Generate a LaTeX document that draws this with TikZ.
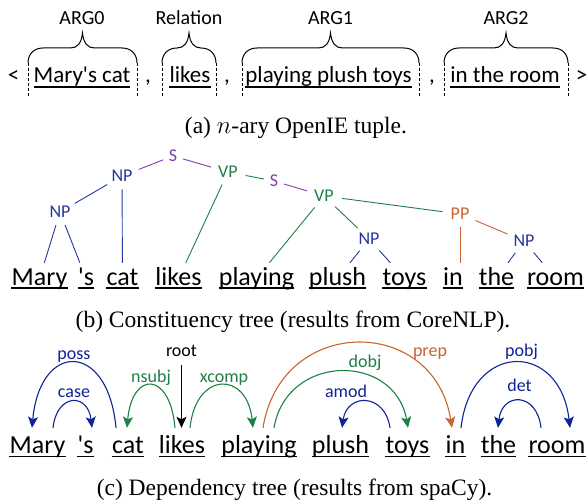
\documentclass[tikz,border=0pt]{standalone}
\usepackage{amsmath}
\usepackage{fontspec}
\setmainfont{Liberation Serif}
\newfontfamily\calibri{Carlito}
\usepackage{tikz}
\usetikzlibrary{arrows.meta,shapes.geometric,calc}

\definecolor{npblue}{RGB}{35,55,160}
\definecolor{depblue}{RGB}{15,35,150}
\definecolor{vpgreen}{RGB}{30,128,70}
\definecolor{spurple}{RGB}{125,60,175}
\definecolor{pporange}{RGB}{200,100,45}

\begin{document}
\begin{tikzpicture}[x=1pt,y=1pt,yscale=-1,xscale=1,
  word/.style={font=\calibri\fontsize{26}{26}\selectfont, anchor=base, inner xsep=0pt, inner ysep=3pt, text height=19pt, text depth=6pt},
  dword/.style={word, inner ysep=6pt},
  tuple/.style={font=\calibri\fontsize{23}{23}\selectfont, anchor=base, inner sep=0pt},
  arglab/.style={font=\calibri\fontsize{20}{20}\selectfont, anchor=base, inner sep=0pt},
  tlab/.style={font=\calibri\fontsize{18}{18}\selectfont, ellipse, inner xsep=3pt, inner ysep=3.5pt, text height=11.6pt, text depth=0pt},
  dlab/.style={font=\calibri\fontsize{18}{18}\selectfont, anchor=base, inner sep=0pt},
  capt/.style={font=\fontsize{23.5}{28}\selectfont, anchor=base, inner sep=0pt},
  uline/.style={line width=1.2pt},
  tedge/.style={line width=0.9pt},
  dashbar/.style={line width=0.8pt, dash pattern=on 3pt off 2pt},
  bracket/.style={line width=1pt},
  dep/.style={line width=1.1pt, -{Stealth[length=11pt,width=10pt,inset=2.5pt]}}]
\useasboundingbox (0,0) rectangle (587,503);

%%%%% (a) tuple
% Text Node
\node[tuple] (ltSign) at (13.5,83) {<};
\node[tuple] (tArg0) at (82,83) {Mary\textquotesingle s cat};
\node[tuple] (comma1) at (148,83) {,};
\node[tuple] (tRel) at (190,83) {likes};
\node[tuple] (comma2) at (227,83) {,};
\node[tuple] (tArg1) at (328.5,83) {playing plush toys};
\node[tuple] (comma3) at (432,83) {,};
\node[tuple] (tArg2) at (505,83) {in the room};
\node[tuple] (gtSign) at (581.5,83) {>};
% Text Node
\node[arglab] (lArg0) at (82,25) {ARG0};
\node[arglab] (lRel) at (189,25) {Relation};
\node[arglab] (lArg1) at (330.5,25) {ARG1};
\node[arglab] (lArg2) at (506,25) {ARG2};
%Straight Lines
\draw[uline] ($(tArg0.base west)+(0,4)$) -- ($(tArg0.base east)+(0,4)$);
\draw[uline] ($(tRel.base west)+(0,4)$) -- ($(tRel.base east)+(0,4)$);
\draw[uline] ($(tArg1.base west)+(0,4)$) -- ($(tArg1.base east)+(0,4)$);
\draw[uline] ($(tArg2.base west)+(0,4)$) -- ($(tArg2.base east)+(0,4)$);
%Dashed Lines
\draw[dashbar] (28,63) -- (28,97);
\draw[dashbar] (137,63) -- (137,97);
\draw[dashbar] (162,63) -- (162,97);
\draw[dashbar] (216,63) -- (216,97);
\draw[dashbar] (242,63) -- (242,97);
\draw[dashbar] (419,63) -- (419,97);
\draw[dashbar] (444,63) -- (444,97);
\draw[dashbar] (568,63) -- (568,97);
%Shape: Brace
\draw[bracket] (28,63) .. controls (28,54) and (34,48) .. (43,48) -- (70.5,48) .. controls (77.5,48) and (81.5,43) .. (82.5,33) .. controls (83.5,43) and (87.5,48) .. (94.5,48) -- (122,48) .. controls (131,48) and (137,54) .. (137,63);
%Shape: Brace
\draw[bracket] (162,63) .. controls (162,54) and (168,48) .. (177,48) -- (177,48) .. controls (184,48) and (188,43) .. (189,33) .. controls (190,43) and (194,48) .. (201,48) -- (201,48) .. controls (210,48) and (216,54) .. (216,63);
%Shape: Brace
\draw[bracket] (242,63) .. controls (242,54) and (248,48) .. (257,48) -- (318.5,48) .. controls (325.5,48) and (329.5,43) .. (330.5,33) .. controls (331.5,43) and (335.5,48) .. (342.5,48) -- (404,48) .. controls (413,48) and (419,54) .. (419,63);
%Shape: Brace
\draw[bracket] (444,63) .. controls (444,54) and (450,48) .. (459,48) -- (494,48) .. controls (501,48) and (505,43) .. (506,33) .. controls (507,43) and (511,48) .. (518,48) -- (553,48) .. controls (562,48) and (568,54) .. (568,63);

% Text Node
\node[capt] (capA) at (296,134) {(a) $n$-ary OpenIE tuple.};

%%%%% (b) constituency tree
% Text Node
\node[word] (bMary) at (39.5,285) {Mary};
\node[word] (bPoss) at (86,285) {\textquotesingle s};
\node[word] (bCat) at (122.5,285) {cat};
\node[word] (bLikes) at (178.5,285) {likes};
\node[word] (bPlaying) at (256.5,285) {playing};
\node[word] (bPlush) at (337.5,285) {plush};
\node[word] (bToys) at (404.5,285) {toys};
\node[word] (bIn) at (453,285) {in};
\node[word] (bThe) at (496.5,285) {the};
\node[word] (bRoom) at (555.5,285) {room};
% Text Node
\node[tlab, spurple] (s1) at (173,156) {S};
\node[tlab, npblue] (np1) at (122,176) {NP};
\node[tlab, vpgreen] (vp1) at (228,172) {VP};
\node[tlab, spurple] (s2) at (274,181) {S};
\node[tlab, npblue] (np2) at (60,212) {NP};
\node[tlab, vpgreen] (vp2) at (324,196) {VP};
\node[tlab, pporange] (pp) at (460,214) {PP};
\node[tlab, npblue] (np3) at (369,239) {NP};
\node[tlab, npblue] (np4) at (524,241) {NP};
%Straight Lines
\draw[tedge, spurple] (s1) -- (np1);
\draw[tedge, spurple] (s1) -- (vp1);
\draw[tedge, npblue] (np1) -- (np2);
\draw[tedge, npblue] (np1) -- (bCat);
\draw[tedge, npblue] (np2) -- (bMary);
\draw[tedge, npblue] (np2) -- (bPoss);
\draw[tedge, vpgreen] (vp1) -- (bLikes);
\draw[tedge, vpgreen] (vp1) -- (s2);
\draw[tedge, spurple] (s2) -- (vp2);
\draw[tedge, vpgreen] (vp2) -- (bPlaying);
\draw[tedge, vpgreen] (vp2) -- (np3);
\draw[tedge, vpgreen] (vp2) -- (pp);
\draw[tedge, npblue] (np3) -- (bPlush);
\draw[tedge, npblue] (np3) -- (bToys);
\draw[tedge, pporange] (pp) -- (pp |- bIn.north);
\draw[tedge, pporange] (pp) -- (np4);
\draw[tedge, npblue] (np4) -- (bThe);
\draw[tedge, npblue] (np4) -- (bRoom);
%Straight Lines
\draw[uline] ($(bMary.base west)+(0,3)$) -- ($(bMary.base east)+(0,3)$);
\draw[uline] ($(bPoss.base west)+(0,3)$) -- ($(bPoss.base east)+(0,3)$);
\draw[uline] ($(bCat.base west)+(0,3)$) -- ($(bCat.base east)+(0,3)$);
\draw[uline] ($(bLikes.base west)+(0,3)$) -- ($(bLikes.base east)+(0,3)$);
\draw[uline] ($(bPlaying.base west)+(0,3)$) -- ($(bPlaying.base east)+(0,3)$);
\draw[uline] ($(bPlush.base west)+(0,3)$) -- ($(bPlush.base east)+(0,3)$);
\draw[uline] ($(bToys.base west)+(0,3)$) -- ($(bToys.base east)+(0,3)$);
\draw[uline] ($(bIn.base west)+(0,3)$) -- ($(bIn.base east)+(0,3)$);
\draw[uline] ($(bThe.base west)+(0,3)$) -- ($(bThe.base east)+(0,3)$);
\draw[uline] ($(bRoom.base west)+(0,3)$) -- ($(bRoom.base east)+(0,3)$);

% Text Node
\node[capt] (capB) at (293,327) {(b) Constituency tree (results from CoreNLP).};

%%%%% (c) dependency tree
% Text Node
\node[dword] (cMary) at (37.5,453) {Mary};
\node[dword] (cPoss) at (85.5,453) {\textquotesingle s};
\node[dword] (cCat) at (128,453) {cat};
\node[dword] (cLikes) at (182,453) {likes};
\node[dword] (cPlaying) at (259,453) {playing};
\node[dword] (cPlush) at (340.5,453) {plush};
\node[dword] (cToys) at (407.5,453) {toys};
\node[dword] (cIn) at (455.5,453) {in};
\node[dword] (cThe) at (498.5,453) {the};
\node[dword] (cRoom) at (557,453) {room};
% Text Node
\node[dlab, depblue] (lPoss) at (74,359) {poss};
\node[dlab, depblue] (lCase) at (74,397) {case};
\node[dlab] (lRoot) at (181.5,356) {root};
\node[dlab, vpgreen] (lNsubj) at (151,382) {nsubj};
\node[dlab, vpgreen] (lXcomp) at (224,382) {xcomp};
\node[dlab, pporange] (lPrep) at (430,356) {prep};
\node[dlab, vpgreen] (lDobj) at (365,367) {dobj};
\node[dlab, depblue] (lAmod) at (346,397) {amod};
\node[dlab, depblue] (lPobj) at (521.5,356) {pobj};
\node[dlab, depblue] (lDet) at (519.5,391) {det};
%Curve Lines
\draw[dep, depblue] ([xshift=-12pt]cCat.north) .. controls +(-8,-87) and +(8,-87) .. ([xshift=-5.5pt]cMary.north);
\draw[dep, depblue] ([xshift=15.5pt]cMary.north) .. controls +(4,-35) and +(-4,-35) .. ([xshift=6.5pt]cPoss.north);
\draw[dep, vpgreen] ([xshift=-7pt]cLikes.north) .. controls +(-5,-57) and +(5,-57) .. ([xshift=-1pt]cCat.north);
\draw[dep, vpgreen] ([xshift=8pt]cLikes.north) .. controls +(6,-57) and +(-6,-57) .. ([xshift=-6pt]cPlaying.north);
\draw[dep, pporange] ([xshift=4pt]cPlaying.north) .. controls +(18,-113) and +(-18,-113) .. ([xshift=-3.5pt]cIn.north);
\draw[dep, vpgreen] ([xshift=15pt]cPlaying.north) .. controls +(13,-75) and +(-13,-75) .. ([xshift=0.5pt]cToys.north);
\draw[dep, depblue] ([xshift=-17.5pt]cToys.north) .. controls +(-5,-35) and +(5,-35) .. ([xshift=1.5pt]cPlush.north);
\draw[dep, depblue] ([xshift=5.5pt]cIn.north) .. controls +(10,-87) and +(-10,-87) .. ([xshift=13pt]cRoom.north);
\draw[dep, depblue] ([xshift=-16pt]cRoom.north) .. controls +(-4,-36) and +(4,-36) .. ([xshift=-0.5pt]cThe.north);
%Straight Lines
\draw[dep, shorten <=9pt] (lRoot) -- (lRoot |- cLikes.north);
%Straight Lines
\draw[uline] ($(cMary.base west)+(0,3.5)$) -- ($(cMary.base east)+(0,3.5)$);
\draw[uline] ($(cPoss.base west)+(0,3.5)$) -- ($(cPoss.base east)+(0,3.5)$);
\draw[uline] ($(cCat.base west)+(0,3.5)$) -- ($(cCat.base east)+(0,3.5)$);
\draw[uline] ($(cLikes.base west)+(0,3.5)$) -- ($(cLikes.base east)+(0,3.5)$);
\draw[uline] ($(cPlaying.base west)+(0,3.5)$) -- ($(cPlaying.base east)+(0,3.5)$);
\draw[uline] ($(cPlush.base west)+(0,3.5)$) -- ($(cPlush.base east)+(0,3.5)$);
\draw[uline] ($(cToys.base west)+(0,3.5)$) -- ($(cToys.base east)+(0,3.5)$);
\draw[uline] ($(cIn.base west)+(0,3.5)$) -- ($(cIn.base east)+(0,3.5)$);
\draw[uline] ($(cThe.base west)+(0,3.5)$) -- ($(cThe.base east)+(0,3.5)$);
\draw[uline] ($(cRoom.base west)+(0,3.5)$) -- ($(cRoom.base east)+(0,3.5)$);

% Text Node
\node[capt] (capC) at (294.5,495) {(c) Dependency tree (results from spaCy).};
\end{tikzpicture}
\end{document}
